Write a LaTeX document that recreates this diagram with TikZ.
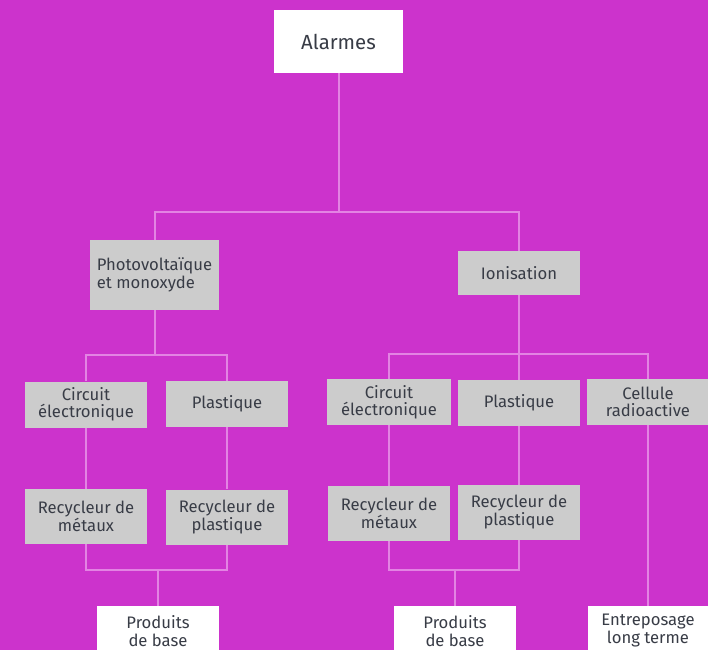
\documentclass[tikz,border=0pt]{standalone}
\usepackage{fontspec}
\setmainfont{Fira Sans}
\usepackage{xcolor}
\usepackage{tikz}
\definecolor{bgpink}{HTML}{CC33CC}
\definecolor{linkpink}{HTML}{E383E3}
\definecolor{boxgray}{HTML}{CCCCCC}
\definecolor{inkgray}{HTML}{383C46}

\begin{document}
\begin{tikzpicture}[
x=0.75pt, y=-0.75pt,
box/.style = {fill=boxgray, text=inkgray, inner sep=0pt, align=center,
  minimum width=91.5pt, minimum height=34.5pt, font=\fontsize{12.5}{13}\selectfont},
tall box/.style = {box, minimum height=41.25pt},
end box/.style = {box, fill=white, minimum height=37.5pt},
link/.style = {linkpink, line width=1.5pt}
]

\fill[bgpink] (0,0) rectangle (708,650);
\clip (0,0) rectangle (708,650);

\node (alarmes) at (338.5, 41.5) [box, fill=white, minimum width=96.75pt, minimum height=47.25pt, font=\fontsize{15.3}{17}\selectfont] {Alarmes};

\node (pv)  at (154.5, 275) [box, minimum width=96.75pt, minimum height=52.5pt, align=left] {Photovoltaïque\\[0.5pt]et monoxyde};
\node (ion) at (519, 273)   [box, minimum height=33pt] {Ionisation};

\node (ce1) at (86, 404.5)  [box] {Circuit\\électronique};
\node (pl1) at (227, 404)   [box] {Plastique};
\node (ce2) at (389, 402)   [box, minimum width=93pt] {Circuit\\électronique};
\node (pl2) at (519, 403)   [box] {Plastique};
\node (cr)  at (648, 402)   [box] {Cellule\\radioactive};

\node (rm1) at (86, 516.5)  [tall box] {Recycleur de\\[0.5pt]métaux};
\node (rp1) at (227, 517)   [tall box] {Recycleur de\\[0.5pt]plastique};
\node (rm2) at (389, 513.5) [tall box] {Recycleur de\\[0.5pt]métaux};
\node (rp2) at (519, 512.5) [tall box] {Recycleur de\\[0.5pt]plastique};

\node (pb1) at (158, 631)   [end box] {Produits\\[0.5pt]de base};
\node (pb2) at (455, 631)   [end box] {Produits\\[0.5pt]de base};
\node (ent) at (648, 631)   [end box, minimum width=90pt] {Entreposage\\[0.5pt]long terme};

\coordinate (bus0) at (338.5, 212);
\coordinate (bus1) at (154.5, 355);
\coordinate (bus2) at (519, 354);
\coordinate (bus3) at (158, 570);
\coordinate (bus4) at (455, 570);

\draw[link] (alarmes.south) -- (bus0);
\draw[link] (pv.north) |- (bus0) -| (ion.north);

\draw[link] (pv.south) -- (bus1);
\draw[link] (ce1.north) |- (bus1) -| (pl1.north);

\draw[link] (ion.south) -- (bus2);
\draw[link] (bus2) -- (pl2.north);
\draw[link] (ce2.north) |- (bus2) -| (cr.north);

\draw[link] (ce1.south) -- (rm1.north);
\draw[link] (pl1.south) -- (rp1.north);
\draw[link] (ce2.south) -- (rm2.north);
\draw[link] (pl2.south) -- (rp2.north);

\draw[link] (rm1.south) |- (bus3) -| (rp1.south);
\draw[link] (bus3) -- (pb1.north);
\draw[link] (rm2.south) |- (bus4) -| (rp2.south);
\draw[link] (bus4) -- (pb2.north);
\draw[link] (cr.south) -- (ent.north);
\end{tikzpicture}
\end{document}
